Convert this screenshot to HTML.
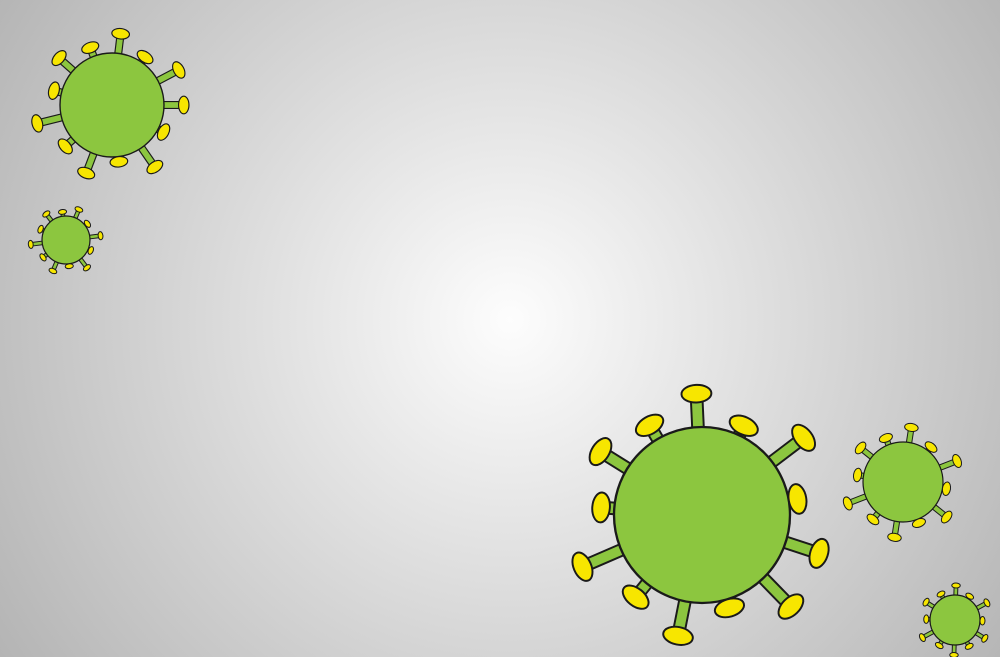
<!DOCTYPE html>
<html><head><meta charset="utf-8">
<style>
html,body{margin:0;padding:0;width:1000px;height:657px;overflow:hidden}
svg{display:block}
</style></head>
<body>
<svg id="scene" width="1000" height="657" viewBox="0 0 1000 657" xmlns="http://www.w3.org/2000/svg">
<defs>
<radialGradient id="bg" cx="510" cy="320" r="620" gradientUnits="userSpaceOnUse">
<stop offset="0" stop-color="#fdfdfd"/>
<stop offset="0.35" stop-color="#e3e3e3"/>
<stop offset="1" stop-color="#b3b3b3"/>
</radialGradient>
</defs>
<rect width="1000" height="657" fill="url(#bg)"/>
<g id="viruses"></g>
</svg>
<script>
const virusX=[112,66,702,903,955];
const virusY=[105,240,515,482,620];
const virusR=[52,24,88,40,25];
const virusSpikes=[13,12,13,12,12];
const names=['virus-top-left','virus-small-left','virus-large','virus-medium-right','virus-small-bottom-right'];
const NS='http://www.w3.org/2000/svg';
const g=document.getElementById('viruses');
const lenPattern=[1.38,1.12,1.45,1.1,1.4,1.2,1.48,1.15,1.36,1.18];
for(let i=0;i<virusX.length;i++){
  const grp=document.createElementNS(NS,'g');
  
  
  const cx=virusX[i],cy=virusY[i],r=virusR[i],n=virusSpikes[i];
  const sw=Math.max(1,r/45);
  const caps=[];
  for(let k=0;k<n;k++){
    const a=(k/n)*Math.PI*2+i*0.4;
    const L=r*lenPattern[(k+i)%lenPattern.length];
    const ex=cx+Math.cos(a)*L, ey=cy+Math.sin(a)*L;
    const st=document.createElementNS(NS,'line');
    st.setAttribute('x1',cx+Math.cos(a)*r*0.8);st.setAttribute('y1',cy+Math.sin(a)*r*0.8);
    st.setAttribute('x2',ex);st.setAttribute('y2',ey);
    st.setAttribute('stroke','#1a1a1a');st.setAttribute('stroke-width',r*0.11+2*sw);
    grp.appendChild(st);
    const st2=st.cloneNode();
    st2.setAttribute('stroke','#8cc63f');st2.setAttribute('stroke-width',r*0.11);
    grp.appendChild(st2);
    const cap=document.createElementNS(NS,'ellipse');
    cap.setAttribute('cx',ex);cap.setAttribute('cy',ey);
    cap.setAttribute('rx',r*0.1);cap.setAttribute('ry',r*0.17);
    cap.setAttribute('transform','rotate('+(a*180/Math.PI)+' '+ex+' '+ey+')');
    cap.setAttribute('fill','#f7e600');cap.setAttribute('stroke','#1a1a1a');cap.setAttribute('stroke-width',sw);
    caps.push(cap);
  }
  const body=document.createElementNS(NS,'circle');
  body.setAttribute('cx',cx);body.setAttribute('cy',cy);body.setAttribute('r',r);
  body.setAttribute('fill','#8cc63f');body.setAttribute('stroke','#1a1a1a');body.setAttribute('stroke-width',sw*1.2);
  grp.appendChild(body);
  caps.forEach(c=>grp.appendChild(c));
  g.appendChild(grp);
}
</script>
</body></html>
